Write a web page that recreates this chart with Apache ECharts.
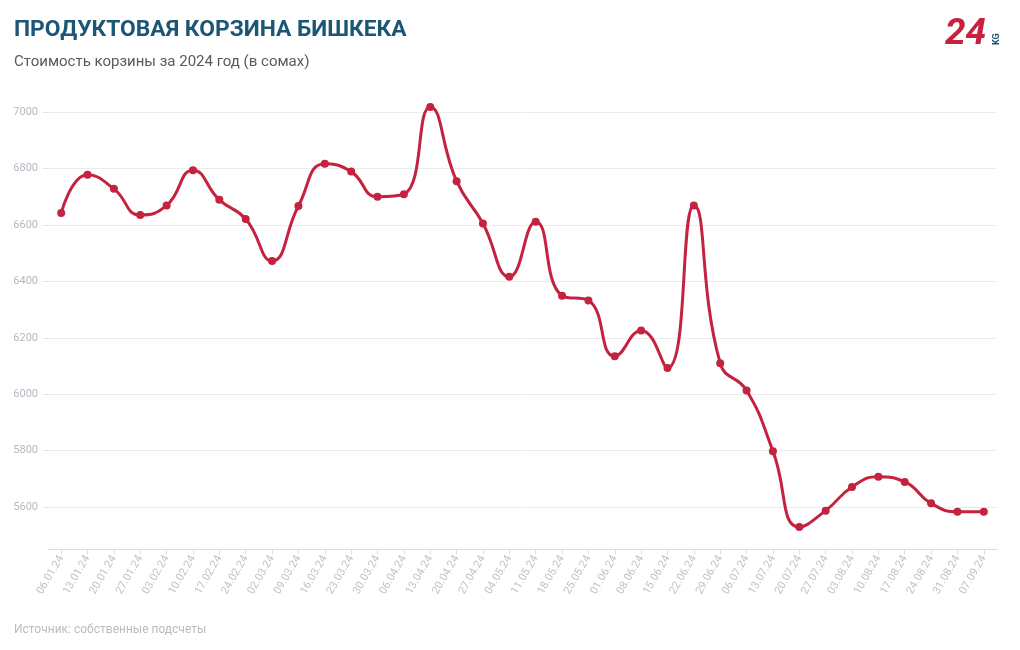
<!DOCTYPE html>
<html>
<head>
<meta charset="utf-8">
<script src="https://cdn.jsdelivr.net/npm/echarts@6/dist/echarts.min.js"></script>
<style>
html,body{margin:0;padding:0;background:#fff;}
#c{width:1020px;height:650px;}
</style>
</head>
<body>
<div id="c"></div>
<script>
const categories = ['06.01.24','13.01.24','20.01.24','27.01.24','03.02.24','10.02.24','17.02.24','24.02.24','02.03.24','09.03.24','16.03.24','23.03.24','30.03.24','06.04.24','13.04.24','20.04.24','27.04.24','04.05.24','11.05.24','18.05.24','25.05.24','01.06.24','08.06.24','15.06.24','22.06.24','29.06.24','06.07.24','13.07.24','20.07.24','27.07.24','03.08.24','10.08.24','17.08.24','24.08.24','31.08.24','07.09.24'];
const basketCost = [6642,6778,6728,6635,6669,6794,6689,6621,6472,6667,6817,6789,6700,6709,7018,6755,6605,6416,6611,6349,6332,6134,6226,6093,6669,6110,6013,5798,5529,5587,5671,5707,5689,5613,5583,5583];
const yTickValues = [5600,5800,6000,6200,6400,6600,6800,7000];
const titleText = 'ПРОДУКТОВАЯ КОРЗИНА БИШКЕКА';
const subtitleText = 'Стоимость корзины за 2024 год (в сомах)';
const sourceText = 'Источник: собственные подсчеты';

const chart = echarts.init(document.getElementById('c'), null, {renderer:'canvas'});
chart.setOption({
  backgroundColor:'#ffffff',
  animation:false,
  textStyle:{fontFamily:'Roboto'},
  title:[
    {text:titleText,left:14,top:19,padding:0,textStyle:{fontFamily:'Roboto',fontWeight:'bold',fontSize:22.8,color:'#1b5675'}},
    {text:subtitleText,left:14,top:55,padding:0,textStyle:{fontFamily:'Roboto',fontWeight:'normal',fontSize:15,color:'#555b61'}},
    {text:sourceText,left:14,top:624,padding:0,textStyle:{fontFamily:'Roboto',fontWeight:'normal',fontSize:12,color:'#b8bcc0'}}
  ],
  graphic:[
    {type:'text',left:945,top:16,style:{text:'24',font:'italic bold 37px Roboto',fill:'#c8203f'}},
    {type:'text',x:992,y:45,rotation:Math.PI/2,style:{text:'KG',font:'bold 9px Roboto',fill:'#1b5675'}}
  ],
  grid:{left:48,right:23,top:98,bottom:100.7,containLabel:false},
  xAxis:{
    type:'category',
    data:categories,
    boundaryGap:true,
    axisLine:{show:true,lineStyle:{color:'#dcdcdc',width:1}},
    axisTick:{show:true,alignWithLabel:true,length:5,lineStyle:{color:'#dcdcdc'}},
    axisLabel:{interval:0,rotate:60,fontSize:11,color:'#bfc2c6',fontFamily:'Roboto',margin:7}
  },
  yAxis:{
    type:'value',
    min:5450,max:7050,
    axisLine:{show:false},
    axisTick:{show:true,length:5,customValues:yTickValues,lineStyle:{color:'#e2e2e2'}},
    axisLabel:{customValues:yTickValues,formatter:function(v){return String(v);},fontSize:11,color:'#b3b9c0',fontFamily:'Roboto',margin:10},
    splitLine:{show:true,lineStyle:{color:'#ececec',width:1}}
  },
  series:[{
    type:'line',
    data:basketCost,
    smooth:0.5,
    symbol:'circle',
    symbolSize:8,
    lineStyle:{color:'#c4223f',width:3},
    itemStyle:{color:'#c4223f'}
  }]
});
</script>
</body>
</html>
